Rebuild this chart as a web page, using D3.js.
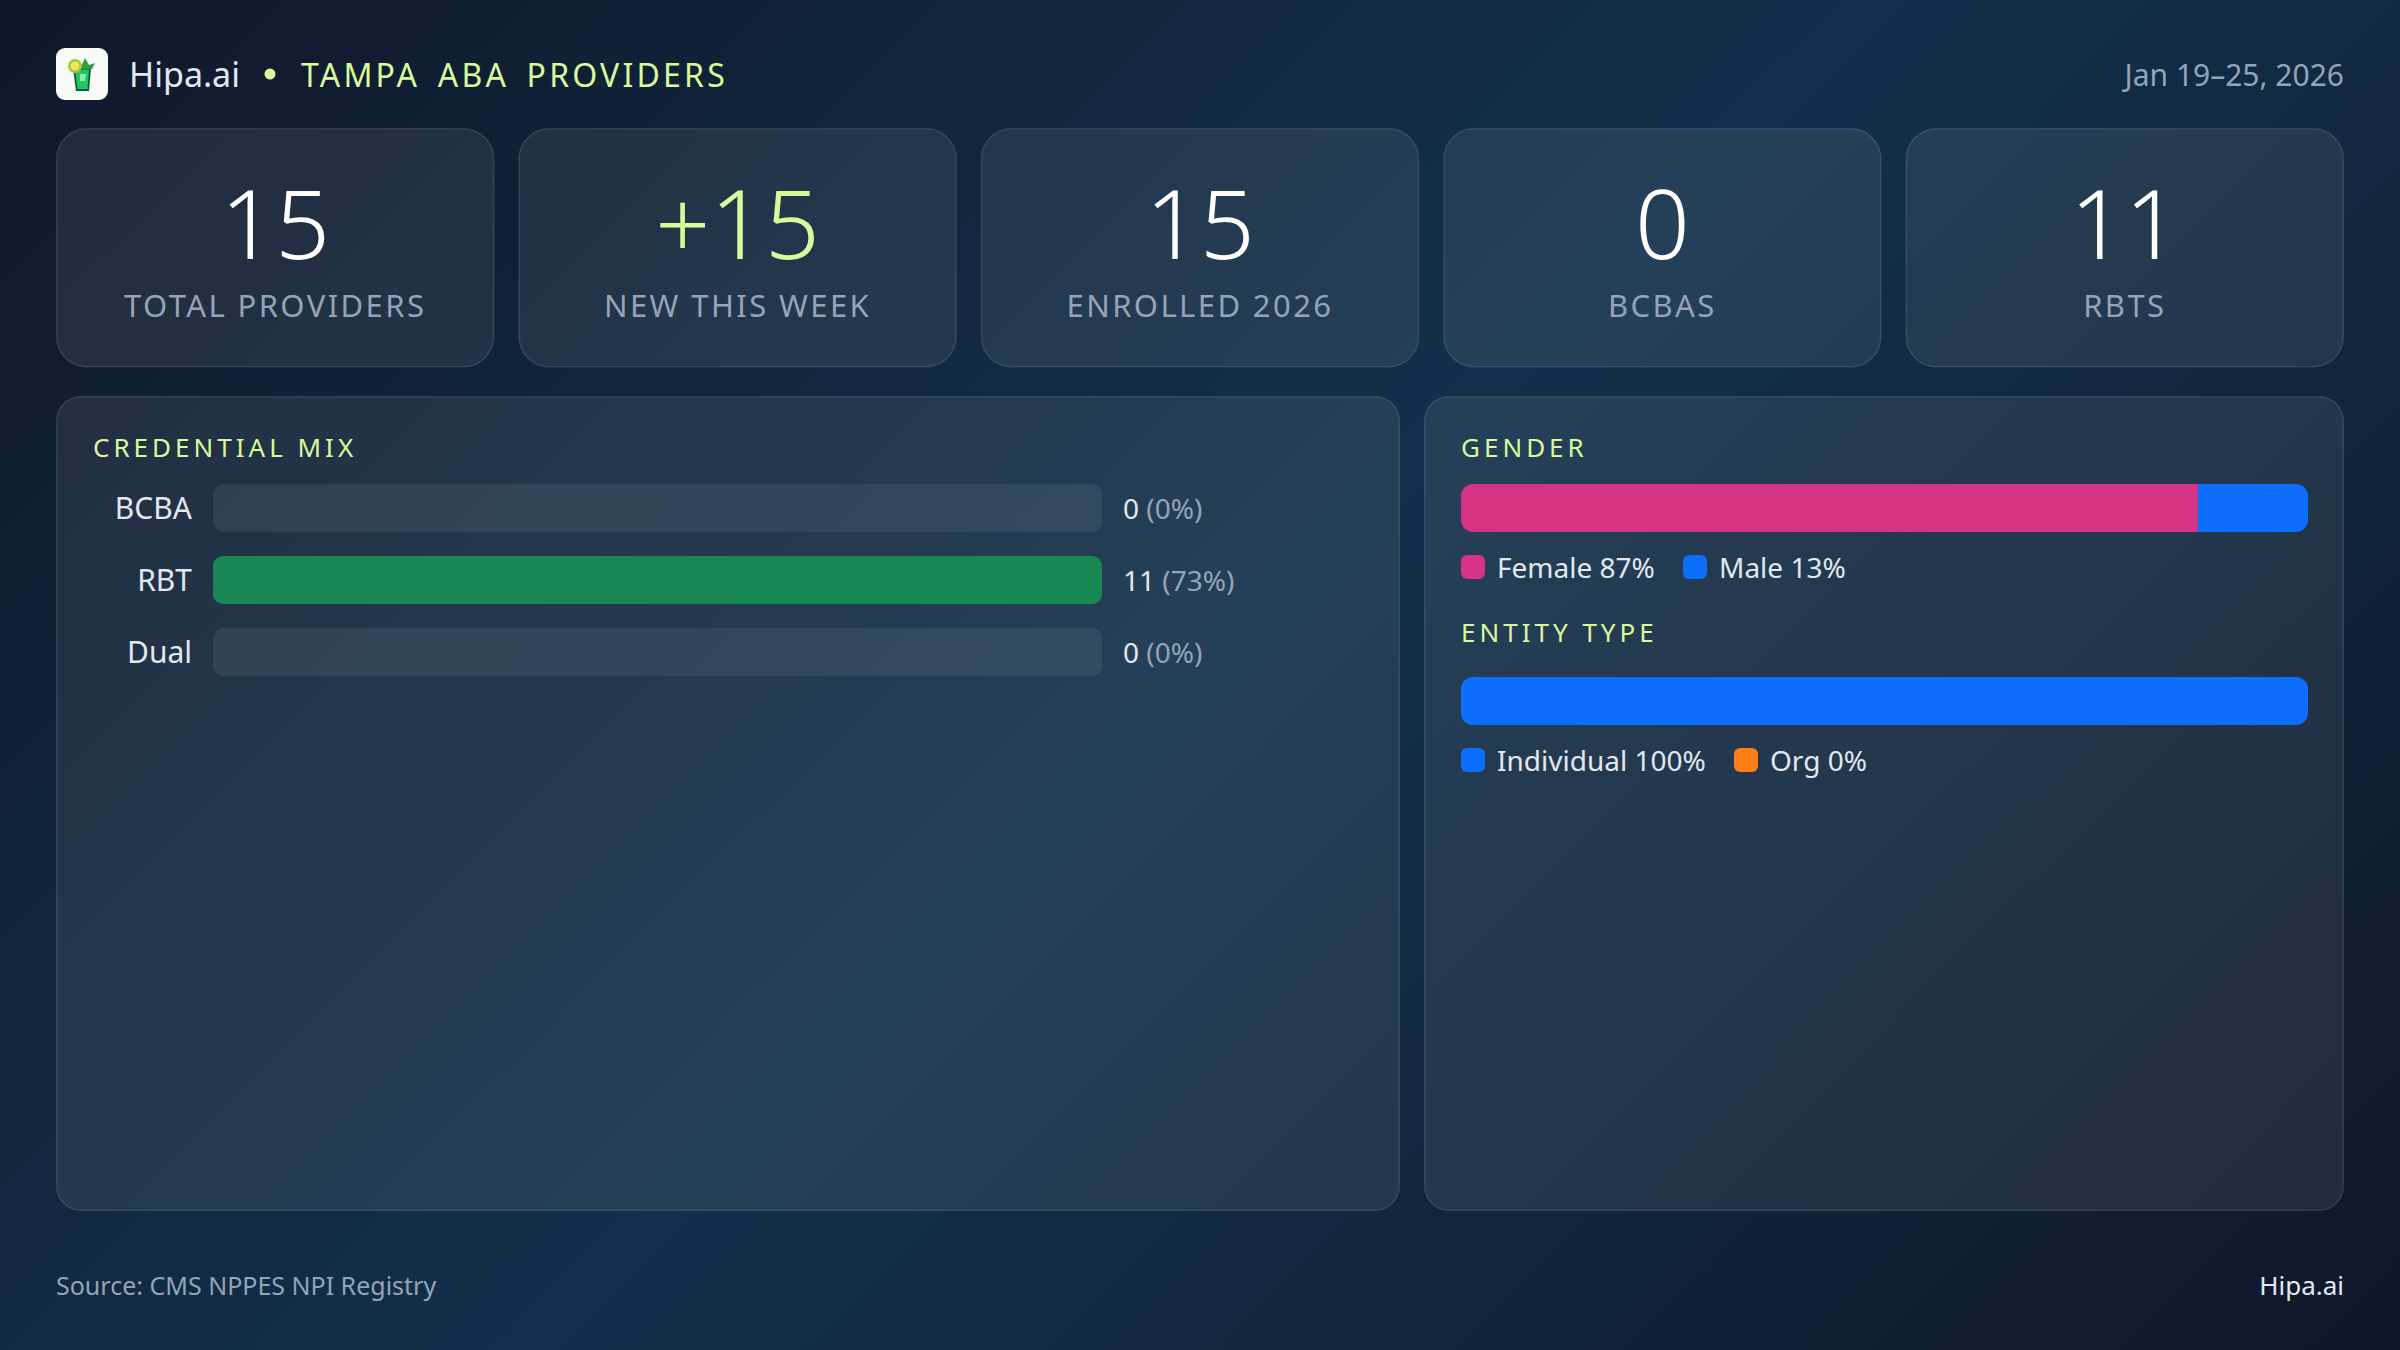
<!DOCTYPE html>
<html>
<head>
<meta charset="utf-8">
<script src="https://cdn.jsdelivr.net/npm/d3@7"></script>
<style>
  html, body { margin: 0; padding: 0; }
  body {
    width: 2400px;
    height: 1350px;
    overflow: hidden;
    background: linear-gradient(135deg, #0f172a 0%, #12304a 50%, #0f172a 100%);
  }
  svg { display: block; }
  text { font-family: "Noto Sans", sans-serif; }
</style>
</head>
<body>
<svg id="chart" width="2400" height="1350"></svg>
<script>
const brand = "Hipa.ai";
const headline = "TAMPA ABA PROVIDERS";
const dateRange = "Jan 19–25, 2026";
const sourceNote = "Source: CMS NPPES NPI Registry";

const kpiValues = ["15", "+15", "15", "0", "11"];
const kpiLabels = ["TOTAL PROVIDERS", "NEW THIS WEEK", "ENROLLED 2026", "BCBAS", "RBTS"];

const credentials = ["BCBA", "RBT", "Dual"];
const credentialCounts = [0, 11, 0];
const credentialPercents = [0, 73, 0];

const genderNames = ["Female", "Male"];
const genderShares = [87, 13];
const entityNames = ["Individual", "Org"];
const entityShares = [100, 0];

const LIME = "#d9f99d";
const MUTED = "#94a3b8";
const LIGHT = "#e2e8f0";
const GREEN = "#198754";
const BLUE = "#0d6efd";
const PINK = "#d63384";
const ORANGE = "#fd7e14";
const CARD_FILL = "rgba(255,255,255,0.08)";
const CARD_STROKE = "rgba(255,255,255,0.12)";
const TRACK = "rgba(255,255,255,0.07)";

const svg = d3.select("#chart");

// header
const logo = svg.append("g").attr("transform", "translate(56,48)");
logo.append("rect").attr("width", 52).attr("height", 52).attr("rx", 9).attr("fill", "#f7fbf6");
logo.append("path").attr("d", "M17 20 L35 20 L33 43 L20 43 Z").attr("fill", "#0b5a45");
logo.append("path").attr("d", "M19 22 L33 22 L31.5 41 L21.5 41 Z").attr("fill", "#22c55e");
logo.append("path").attr("d", "M24 26 L30 26 L29 33 L24 33 Z").attr("fill", "#86efac");
logo.append("path").attr("d", "M25 19 L29 10 L33 17 L39 15 L36 21 L27 22 Z").attr("fill", "#2f9e44");
logo.append("circle").attr("cx", 19).attr("cy", 18).attr("r", 7).attr("fill", "#a3c93a");
logo.append("circle").attr("cx", 19).attr("cy", 18).attr("r", 4.5).attr("fill", "#f4e65c");

svg.append("text").attr("x", 129).attr("y", 87).attr("font-size", 34).attr("fill", LIGHT).text(brand);
svg.append("circle").attr("cx", 270).attr("cy", 74).attr("r", 5.5).attr("fill", LIME);
svg.append("text").attr("x", 301).attr("y", 87).attr("font-size", 32)
  .attr("letter-spacing", 3.2).attr("word-spacing", 6).attr("fill", LIME).text(headline);
svg.append("text").attr("x", 2344).attr("y", 86).attr("text-anchor", "end")
  .attr("font-size", 30).attr("fill", MUTED).text(dateRange);

// kpi cards
const kpiX = d3.scaleBand().domain(d3.range(kpiValues.length)).range([56, 2344]).paddingInner(24 / 462.4);
const kpi = svg.selectAll("g.kpi").data(kpiValues).join("g").attr("class", "kpi")
  .attr("transform", (d, i) => `translate(${kpiX(i)},128)`);
kpi.append("rect")
  .attr("x", 0.75).attr("y", 0.75)
  .attr("width", kpiX.bandwidth() - 1.5).attr("height", 238).attr("rx", 30)
  .attr("fill", CARD_FILL).attr("stroke", CARD_STROKE).attr("stroke-width", 1.5);
kpi.append("text")
  .attr("x", kpiX.bandwidth() / 2).attr("y", 131).attr("text-anchor", "middle")
  .attr("font-size", 96).attr("font-weight", 300)
  .attr("fill", (d, i) => (i === 1 ? LIME : "#ffffff")).text((d) => d);
kpi.append("text")
  .attr("x", kpiX.bandwidth() / 2).attr("y", 189).attr("text-anchor", "middle")
  .attr("font-size", 31).attr("letter-spacing", 2.4).attr("fill", MUTED)
  .text((d, i) => kpiLabels[i]);

// panels
const panels = [[56, 1344], [1424, 920]];
svg.selectAll("rect.panel").data(panels).join("rect").attr("class", "panel")
  .attr("x", (d) => d[0] + 0.75).attr("y", 396.75)
  .attr("width", (d) => d[1] - 1.5).attr("height", 813.5).attr("rx", 24)
  .attr("fill", CARD_FILL).attr("stroke", CARD_STROKE).attr("stroke-width", 1.5);

function panelTitle(x, y, label) {
  svg.append("text").attr("x", x).attr("y", y).attr("font-size", 26)
    .attr("letter-spacing", 4).attr("fill", LIME).text(label);
}

// credential mix bars
panelTitle(93, 457, "CREDENTIAL MIX");
const barX = d3.scaleLinear().domain([0, d3.max(credentialCounts)]).range([0, 889]);
const barY = d3.scaleBand().domain(credentials).range([484, 676]).paddingInner(24 / 72);
const rows = svg.selectAll("g.row").data(credentials).join("g").attr("class", "row")
  .attr("transform", (d) => `translate(0,${barY(d)})`);
rows.append("text").attr("x", 192).attr("y", 35).attr("text-anchor", "end")
  .attr("font-size", 30).attr("fill", LIGHT).text((d) => d);
rows.append("rect").attr("x", 213).attr("width", barX.range()[1]).attr("height", barY.bandwidth())
  .attr("rx", 10).attr("fill", TRACK);
rows.append("rect").attr("x", 213).attr("width", (d, i) => barX(credentialCounts[i]))
  .attr("height", barY.bandwidth()).attr("rx", 10).attr("fill", GREEN);
const rowValues = rows.append("text").attr("x", 1123).attr("y", 35).attr("font-size", 28).attr("fill", LIGHT);
rowValues.append("tspan").text((d, i) => credentialCounts[i]);
rowValues.append("tspan").attr("fill", MUTED).text((d, i) => ` (${credentialPercents[i]}%)`);

// stacked share bars with their legends
function shareBar(id, barTop, names, shares, colors) {
  const x = d3.scaleLinear().domain([0, d3.sum(shares)]).range([1461, 2308]);
  const clip = svg.append("clipPath").attr("id", id).append("rect")
    .attr("x", x.range()[0]).attr("y", barTop)
    .attr("width", x.range()[1] - x.range()[0]).attr("height", 48).attr("rx", 12);
  let running = 0;
  const starts = shares.map((s) => { const at = running; running += s; return at; });
  svg.append("g").attr("clip-path", `url(#${id})`)
    .selectAll("rect").data(shares).join("rect")
    .attr("x", (d, i) => x(starts[i])).attr("y", barTop)
    .attr("width", (d) => x(d) - x(0)).attr("height", 48)
    .attr("fill", (d, i) => colors[i]);
  return clip;
}
function legend(top, names, shares, colors, itemX) {
  const item = svg.selectAll(`g.lg${top}`).data(names).join("g").attr("class", `lg${top}`)
    .attr("transform", (d, i) => `translate(${itemX[i]},${top})`);
  item.append("rect").attr("width", 24).attr("height", 24).attr("rx", 6).attr("fill", (d, i) => colors[i]);
  item.append("text").attr("x", 36).attr("y", 23).attr("font-size", 28).attr("fill", LIGHT)
    .text((d, i) => `${d} ${shares[i]}%`);
}

panelTitle(1461, 457, "GENDER");
shareBar("genderClip", 484, genderNames, genderShares, [PINK, BLUE]);
legend(555, genderNames, genderShares, [PINK, BLUE], [1461, 1683]);

panelTitle(1461, 642, "ENTITY TYPE");
shareBar("entityClip", 677, entityNames, entityShares, [BLUE, ORANGE]);
legend(748, entityNames, entityShares, [BLUE, ORANGE], [1461, 1734]);

// footer
svg.append("text").attr("x", 56).attr("y", 1295).attr("font-size", 25).attr("fill", MUTED).text(sourceNote);
svg.append("text").attr("x", 2344).attr("y", 1295).attr("text-anchor", "end")
  .attr("font-size", 26).attr("fill", LIGHT).text(brand);
</script>
</body>
</html>
